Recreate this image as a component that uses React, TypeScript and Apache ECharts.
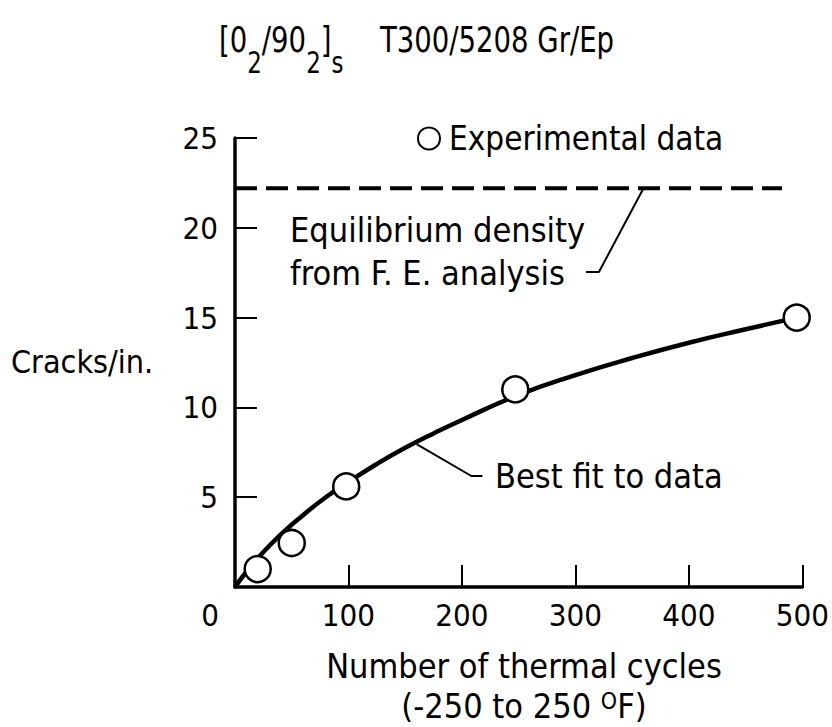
import React, { useEffect, useRef } from "react";
import * as echarts from "echarts";

const FONT = '"DejaVu Sans Condensed", "Liberation Sans", sans-serif';

// Experimental data (cycles, cracks/in.)
const expX = [20, 50, 98, 247, 495];
const expY = [1.0, 2.45, 5.6, 11.0, 15.0];

// Best-fit curve
const fitX = [0, 10, 20, 40, 60, 80, 100, 125, 150, 175, 200, 250, 300, 350, 400, 450, 495];
const fitY = [0, 0.85, 1.6, 2.9, 4.0, 5.0, 5.85, 6.85, 7.75, 8.55, 9.3, 10.7, 11.8, 12.75, 13.6, 14.35, 15.0];

// Equilibrium density from F.E. analysis (dashed line)
const eqX = [0, 482];
const eqY = [22.2, 22.2];

// Leader lines of the annotations
const eqLeaderX = [360, 320.7, 309.3];
const eqLeaderY = [22.2, 17.54, 17.54];
const fitLeaderX = [160, 208.3, 218];
const fitLeaderY = [7.96, 6.18, 6.18];

// Axis ticks
const xTicks = [0, 100, 200, 300, 400, 500];
const yTicks = [0, 5, 10, 15, 20, 25];

const pairs = (xs: number[], ys: number[]) => xs.map((x, i) => [x, ys[i]]);

export default function App() {
  const ref = useRef<HTMLDivElement>(null);
  useEffect(() => {
    if (!ref.current) return;
    const chart = echarts.init(ref.current, undefined, { renderer: "svg" });
    const txt = (text: string, x: number, y: number, extra: any = {}, el: any = {}) => ({
      type: "text",
      x,
      y,
      ...el,
      style: {
        text,
        fontFamily: FONT,
        fontSize: 34,
        fill: "#000",
        textVerticalAlign: "middle",
        ...extra,
      },
    });
    chart.setOption({
      animation: false,
      backgroundColor: "#fff",
      grid: { left: 235, right: 28, top: 138, bottom: 140 },
      xAxis: {
        type: "value",
        min: xTicks[0],
        max: xTicks[xTicks.length - 1],
        interval: xTicks[1] - xTicks[0],
        axisLine: { lineStyle: { color: "#000", width: 3.5 } },
        axisTick: { inside: true, length: 22, lineStyle: { color: "#000", width: 2 } },
        splitLine: { show: false },
        axisLabel: {
          color: "#000",
          fontFamily: FONT,
          fontSize: 31,
          margin: 12,
          formatter: (v: number) => (v === 0 ? "" : String(v)),
        },
      },
      yAxis: {
        type: "value",
        min: yTicks[0],
        max: yTicks[yTicks.length - 1],
        interval: yTicks[1] - yTicks[0],
        axisLine: { lineStyle: { color: "#000", width: 3.5 } },
        axisTick: { inside: true, length: 22, lineStyle: { color: "#000", width: 2 } },
        splitLine: { show: false },
        axisLabel: {
          color: "#000",
          fontFamily: FONT,
          fontSize: 31,
          margin: 17,
          formatter: (v: number) => (v === 0 ? "" : String(v)),
        },
      },
      legend: {
        data: ["Experimental data"],
        left: 412,
        top: 117,
        itemWidth: 22,
        itemHeight: 22,
        icon: "circle",
        itemStyle: { color: "#fff", borderColor: "#000", borderWidth: 2 },
        textStyle: { color: "#000", fontFamily: FONT, fontSize: 33, padding: [0, 0, 0, 4] },
      },
      series: [
        {
          type: "line",
          name: "Best fit to data",
          data: pairs(fitX, fitY),
          smooth: true,
          showSymbol: false,
          lineStyle: { color: "#000", width: 4.5 },
          z: 2,
        },
        {
          type: "line",
          name: "Equilibrium density",
          data: pairs(eqX, eqY),
          showSymbol: false,
          lineStyle: { color: "#000", width: 4, type: [22, 9] },
          z: 2,
        },
        {
          type: "line",
          name: "eqLeader",
          data: pairs(eqLeaderX, eqLeaderY),
          showSymbol: false,
          lineStyle: { color: "#000", width: 2 },
          z: 2,
        },
        {
          type: "line",
          name: "fitLeader",
          data: pairs(fitLeaderX, fitLeaderY),
          showSymbol: false,
          lineStyle: { color: "#000", width: 2 },
          z: 2,
        },
        {
          type: "scatter",
          name: "Experimental data",
          data: pairs(expX, expY),
          symbol: "circle",
          symbolSize: 26,
          itemStyle: { color: "#fff", borderColor: "#000", borderWidth: 2.5, opacity: 1 },
          z: 5,
        },
      ],
      graphic: [
        {
          type: "text",
          x: 219,
          y: 50,
          scaleX: 0.85,
          style: {
            text: "{m|[0}{s|2}{m|/90}{s|2}{m|]}{s|s}",
            fontFamily: FONT,
            fill: "#000",
            textVerticalAlign: "middle",
            rich: {
              m: { fontSize: 36, fontFamily: FONT, verticalAlign: "top" },
              s: { fontSize: 30, fontFamily: FONT, padding: [26, 0, 0, 0], verticalAlign: "bottom" },
            },
          },
        },
        txt("T300/5208 Gr/Ep", 380, 40, { fontSize: 36 }, { scaleX: 0.85 }),
        txt("Equilibrium density", 290, 230),
        txt("from F. E. analysis", 290, 273),
        txt("Best fit to data", 495, 476),
        txt("Cracks/in.", 11, 362, { fontSize: 32 }),
        txt("0", 210, 615, { textAlign: "center", fontSize: 31 }),
        txt("Number of thermal cycles", 524, 666, { textAlign: "center" }),
        {
          type: "text",
          x: 524,
          y: 706,
          style: {
            text: "{m|(-250 to 250 }{sup|O}{m|F)}",
            fontFamily: FONT,
            fill: "#000",
            textAlign: "center",
            textVerticalAlign: "middle",
            rich: {
              m: { fontSize: 34, fontFamily: FONT, verticalAlign: "bottom" },
              sup: { fontSize: 23, fontFamily: FONT, verticalAlign: "top" },
            },
          },
        },
      ],
    });
    return () => chart.dispose();
  }, []);
  return (
    <div
      ref={ref}
      style={{ position: "absolute", left: 0, top: 0, width: 832, height: 727 }}
    />
  );
}
